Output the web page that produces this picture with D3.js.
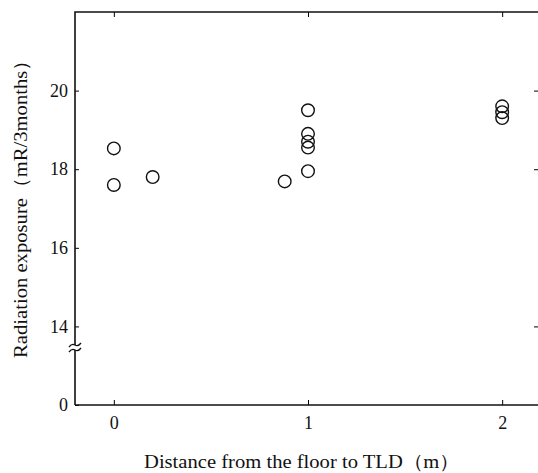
<!DOCTYPE html>
<html>
<head>
<meta charset="utf-8">
<script src="https://cdn.jsdelivr.net/npm/d3@7"></script>
<style>
  body { margin: 0; background: #fff; }
  text { font-family: "Liberation Serif", "DejaVu Serif", serif; fill: #111; }
</style>
</head>
<body>
<div id="chart"></div>
<script>
// distance from the floor (m) and exposure (mR/3months)
var distances = [0, 0, 0.2, 0.88, 1, 1, 1, 1, 1, 2, 2, 2];
var exposures = [18.53, 17.6, 17.8, 17.69, 19.5, 18.9, 18.7, 18.55, 17.95, 19.6, 19.45, 19.3];
var xTicks = [0, 1, 2];
var yTicks = [0, 14, 16, 18, 20];

var width = 538, height = 473;

var svg = d3.select("#chart").append("svg")
    .attr("width", width)
    .attr("height", height);

// x scale
var x = d3.scaleLinear()
    .domain([-0.2, 2.2])
    .range([75, 541]);

// y scale with a break between 0 and 14
var y = d3.scaleLinear()
    .domain([0, 13.4, 22])
    .range([405, 350, 12]);

var plotLeft = x(-0.2), plotRight = x(2.2), plotTop = y(22), plotBottom = y(0);

// bottom axis
svg.append("g")
    .attr("transform", "translate(0," + plotBottom + ")")
    .call(d3.axisBottom(x).tickValues(xTicks).tickSize(-5).tickPadding(11).tickFormat(d3.format("d")))
    .call(function(g) {
        g.select(".domain").remove();
        g.selectAll("text").attr("font-size", 18).style("font-family", '"Liberation Serif", serif');
    });

// top axis
svg.append("g")
    .attr("transform", "translate(0," + plotTop + ")")
    .call(d3.axisTop(x).tickValues(xTicks).tickSize(-5).tickFormat(""))
    .call(function(g) { g.select(".domain").remove(); });

// left axis
svg.append("g")
    .attr("transform", "translate(" + plotLeft + ",0)")
    .call(d3.axisLeft(y).tickValues(yTicks).tickSize(-4).tickPadding(7).tickFormat(d3.format("d")))
    .call(function(g) {
        g.select(".domain").remove();
        g.selectAll("text").attr("font-size", 18).style("font-family", '"Liberation Serif", serif');
    });

// right axis ticks
svg.append("g")
    .attr("transform", "translate(" + (plotRight - 3) + ",0)")
    .call(d3.axisRight(y).tickValues([14, 18, 20]).tickSize(-4).tickFormat(""))
    .call(function(g) { g.select(".domain").remove(); });

// frame
svg.append("path")
    .attr("d", "M" + plotLeft + "," + plotBottom + "V" + plotTop + "H" + plotRight)
    .attr("fill", "none")
    .attr("stroke", "#111")
    .attr("stroke-width", 1.6);
svg.append("path")
    .attr("d", "M" + plotLeft + "," + plotBottom + "H" + plotRight)
    .attr("fill", "none")
    .attr("stroke", "#111")
    .attr("stroke-width", 1.6);

// axis break marks
var by = y(13.4);
svg.append("rect")
    .attr("x", plotLeft - 3).attr("y", by - 5)
    .attr("width", 6).attr("height", 5)
    .attr("fill", "#fff");
[by - 5, by].forEach(function(yy) {
    svg.append("path")
        .attr("d", "M" + (plotLeft - 6) + "," + (yy + 2) + "q3,-4 6,-2 t6,-2")
        .attr("fill", "none")
        .attr("stroke", "#111")
        .attr("stroke-width", 1.3);
});

// points
svg.append("g").selectAll("circle")
    .data(distances)
    .enter().append("circle")
    .attr("cx", function(d) { return x(d); })
    .attr("cy", function(d, i) { return y(exposures[i]); })
    .attr("r", 6.3)
    .attr("fill", "none")
    .attr("stroke", "#111")
    .attr("stroke-width", 1.4);

// axis titles
svg.append("text")
    .attr("x", 144)
    .attr("y", 468)
    .attr("font-size", 19)
    .attr("textLength", 316)
    .attr("lengthAdjust", "spacingAndGlyphs")
    .text("Distance from the floor to TLD（m）");

svg.append("text")
    .attr("transform", "translate(27,358) rotate(-90)")
    .attr("font-size", 19)
    .attr("textLength", 308)
    .attr("lengthAdjust", "spacingAndGlyphs")
    .text("Radiation exposure（mR/3months）");
</script>
</body>
</html>
